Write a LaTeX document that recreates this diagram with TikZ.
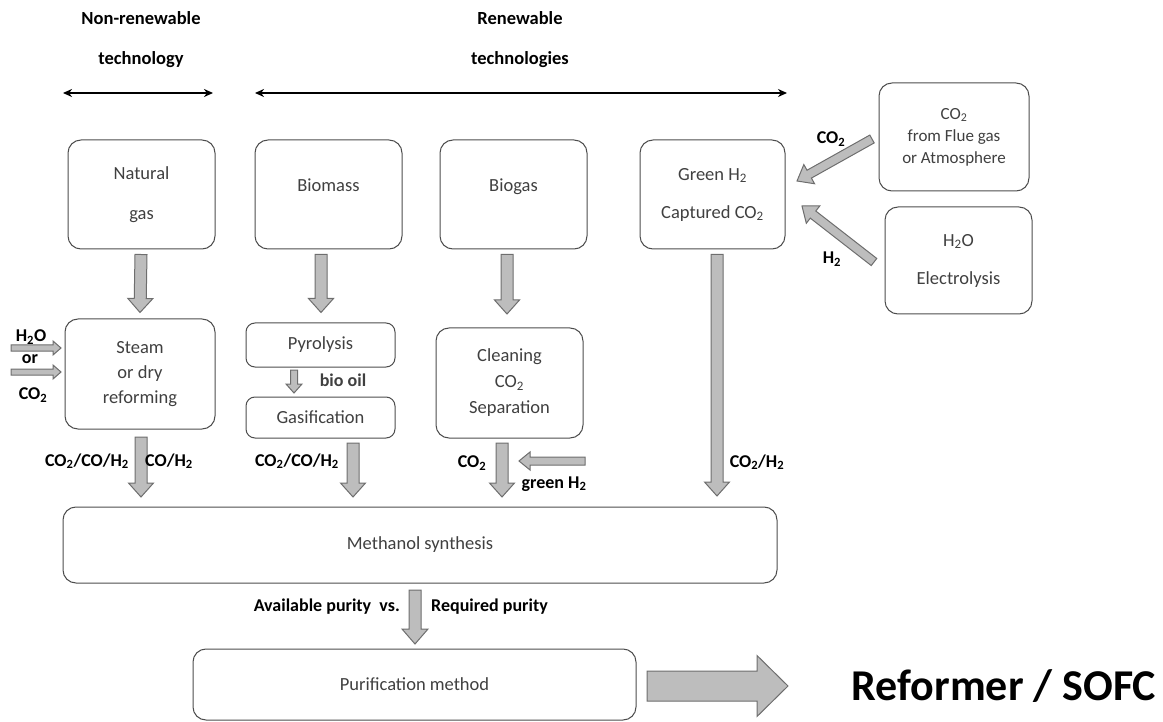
\documentclass[tikz,border=0pt]{standalone}
\usepackage{fontspec}
\setmainfont{Carlito}
\usetikzlibrary{calc,arrows.meta}
\definecolor{boxline}{HTML}{4D4D4D}
\definecolor{txt}{HTML}{404040}
\definecolor{afill}{HTML}{BDBDBD}
\definecolor{aline}{HTML}{6E6E6E}
\newcommand\blockarr[5]{%
  \path ($(#2)!#5!(#1)$) coordinate (hb);
  \filldraw[barrow] ($(#1)!#3!90:(#2)$) -- ($(hb)!#3!90:(#2)$) -- ($(hb)!#4!90:(#2)$) -- (#2)
    -- ($(hb)!#4!-90:(#2)$) -- ($(hb)!#3!-90:(#2)$) -- ($(#1)!#3!-90:(#2)$) -- cycle;}
\newcommand\sub[1]{\textsubscript{#1}}
\begin{document}
\begin{tikzpicture}[x=1pt,y=-1pt,
  box/.style={draw=boxline, rounded corners=13pt, line width=1pt, fill=white, text=txt,
    font=\fontsize{18.5}{22}\selectfont, align=center, inner sep=0pt},
  sbox/.style={box, rounded corners=9pt},
  lbl/.style={font=\bfseries\fontsize{18}{22}\selectfont, text=black, inner sep=0pt},
  hdr/.style={font=\bfseries\fontsize{18.5}{22}\selectfont, text=black, inner sep=0pt},
  barrow/.style={fill=afill, draw=aline, line width=1pt, line join=miter},
  dbl/.style={{Stealth[length=9pt,width=8pt]}-{Stealth[length=9pt,width=8pt]}, line width=1.8pt, black}]
\useasboundingbox (0,0) rectangle (1163,722);

% headers
\node[hdr] (h1) at (141,18) {Non-renewable};
\node[hdr] (h2) at (141,60) {technology};
\node[hdr] (h3) at (520,18) {Renewable};
\node[hdr] (h4) at (520,60) {technologies};
\coordinate (d1a) at (63,93); \coordinate (d1b) at (213,93);
\coordinate (d2a) at (255,93); \coordinate (d2b) at (787,93);
\draw[dbl] (d1a) -- (d1b);
\draw[dbl] (d2a) -- (d2b);

% top boxes
\node[box, minimum width=147pt, minimum height=109pt, font=\fontsize{18.5}{40}\selectfont] (ng) at (141.5,194.5) {Natural\\gas};
\node[box, minimum width=147pt, minimum height=109pt, text height=12pt, text depth=18pt] (bm) at (328.5,194.5) {Biomass};
\node[box, minimum width=147pt, minimum height=109pt, text height=12pt, text depth=18pt] (bg) at (513.5,194.5) {Biogas};
\node[box, minimum width=145pt, minimum height=109pt, font=\fontsize{18.5}{38}\selectfont] (gh) at (712.5,194.5) {Green H\sub{2}\\Captured CO\sub{2}};
\node[box, minimum width=150pt, minimum height=108pt, font=\fontsize{17}{22}\selectfont] (fl) at (954,137) {CO\sub{2}\\from Flue gas\\or Atmosphere};
\node[box, minimum width=147pt, minimum height=107pt, font=\fontsize{18.5}{38}\selectfont] (el) at (958.5,260.5) {H\sub{2}O\\Electrolysis};

% second row
\node[box, minimum width=150pt, minimum height=110pt, font=\fontsize{18.5}{25}\selectfont] (sr) at (140,374) {Steam\\or dry\\reforming};
\node[sbox, minimum width=149pt, minimum height=44pt] (py) at (320.5,345) {Pyrolysis};
\node[sbox, minimum width=149pt, minimum height=41pt] (ga) at (320.5,417.5) {Gasification};
\node[box, minimum width=147pt, minimum height=110pt, font=\fontsize{18.5}{26}\selectfont] (cl) at (509.5,383) {Cleaning\\CO\sub{2}\\Separation};

% methanol & purification
\node[box, minimum width=714pt, minimum height=76pt] (ms) at (420,545) {Methanol synthesis};
\node[box, minimum width=443pt, minimum height=71pt] (pm) at (414.5,684.5) {Purification method};
\node[font=\bfseries\fontsize{44}{50}\selectfont, text=black, inner sep=0pt] (sofc) at (1004,686) {Reformer / SOFC};

% arrows top -> second row
\coordinate (a1s) at ($(ng.south)+(-0.5,5)$); \coordinate (a1e) at ($(sr.north)+(0,-6)$);
\blockarr{a1s}{a1e}{6pt}{12.5pt}{14pt}
\coordinate (a2s) at ($(bm.south)+(-7.5,5)$); \coordinate (a2e) at ($(py.north)+(0.5,-10)$);
\blockarr{a2s}{a2e}{6pt}{12.5pt}{14pt}
\coordinate (a3s) at ($(bg.south)+(-6.5,5)$); \coordinate (a3e) at (507,314);
\blockarr{a3s}{a3e}{6pt}{12.5pt}{14pt}
\coordinate (a4s) at ($(gh.south)+(4.5,5)$); \coordinate (a4e) at (717,496);
\blockarr{a4s}{a4e}{6pt}{12.5pt}{14pt}

% bio oil
\coordinate (b1s) at (294,370); \coordinate (b1e) at (294,393);
\blockarr{b1s}{b1e}{3.5pt}{8pt}{9pt}
\node[font=\bfseries\fontsize{18}{22}\selectfont, text=txt, inner sep=0pt] (bo) at (343,380) {bio oil};

% left inputs
\coordinate (l1s) at (11,348); \coordinate (l1e) at (61,348);
\blockarr{l1s}{l1e}{3pt}{7pt}{8pt}
\coordinate (l2s) at (11,372); \coordinate (l2e) at (61,372);
\blockarr{l2s}{l2e}{3pt}{7pt}{8pt}
\node[lbl] (i1) at (31,337) {H\sub{2}O};
\node[lbl] (i2) at (30,359) {or};
\node[lbl] (i3) at (33,395) {CO\sub{2}};

% arrows to methanol
\coordinate (m1s) at (141,437); \coordinate (m1e) at (141,497);
\blockarr{m1s}{m1e}{6pt}{12.5pt}{14pt}
\coordinate (m2s) at (353,443); \coordinate (m2e) at (353,497);
\blockarr{m2s}{m2e}{6pt}{12.5pt}{14pt}
\coordinate (m3s) at (502,443); \coordinate (m3e) at (502,497);
\blockarr{m3s}{m3e}{6pt}{12.5pt}{14pt}
\coordinate (g1s) at (585,461); \coordinate (g1e) at (519,461);
\blockarr{g1s}{g1e}{4pt}{9pt}{11pt}
\node[lbl, anchor=east] (c1) at (129,461) {CO\sub{2}/CO/H\sub{2}};
\node[lbl, anchor=west] (c2) at (145,461) {CO/H\sub{2}};
\node[lbl, anchor=east] (c3) at (339,461) {CO\sub{2}/CO/H\sub{2}};
\node[lbl] (c4) at (472,463) {CO\sub{2}};
\node[lbl] (c5) at (554,484) {green H\sub{2}};
\node[lbl] (c6) at (757,462) {CO\sub{2}/H\sub{2}};

% right side diagonals
\coordinate (r1s) at (872,139); \coordinate (r1e) at (797,181);
\blockarr{r1s}{r1e}{4.5pt}{11pt}{14pt}
\coordinate (r2s) at (874,262); \coordinate (r2e) at (802,206);
\blockarr{r2s}{r2e}{4.5pt}{11pt}{14pt}
\node[lbl] (c7) at (831,139) {CO\sub{2}};
\node[lbl] (c8) at (832,259) {H\sub{2}};

% purity
\coordinate (p1s) at (415,590); \coordinate (p1e) at (415,644);
\blockarr{p1s}{p1e}{6pt}{13pt}{15pt}
\node[lbl, anchor=east] (q1) at (400,607) {Available purity\ \ vs.};
\node[lbl, anchor=west] (q2) at (431,607) {Required purity};

% big arrow
\coordinate (bas) at (647,686); \coordinate (bae) at (788,686);
\blockarr{bas}{bae}{15pt}{30.5pt}{31pt}
\end{tikzpicture}
\end{document}
